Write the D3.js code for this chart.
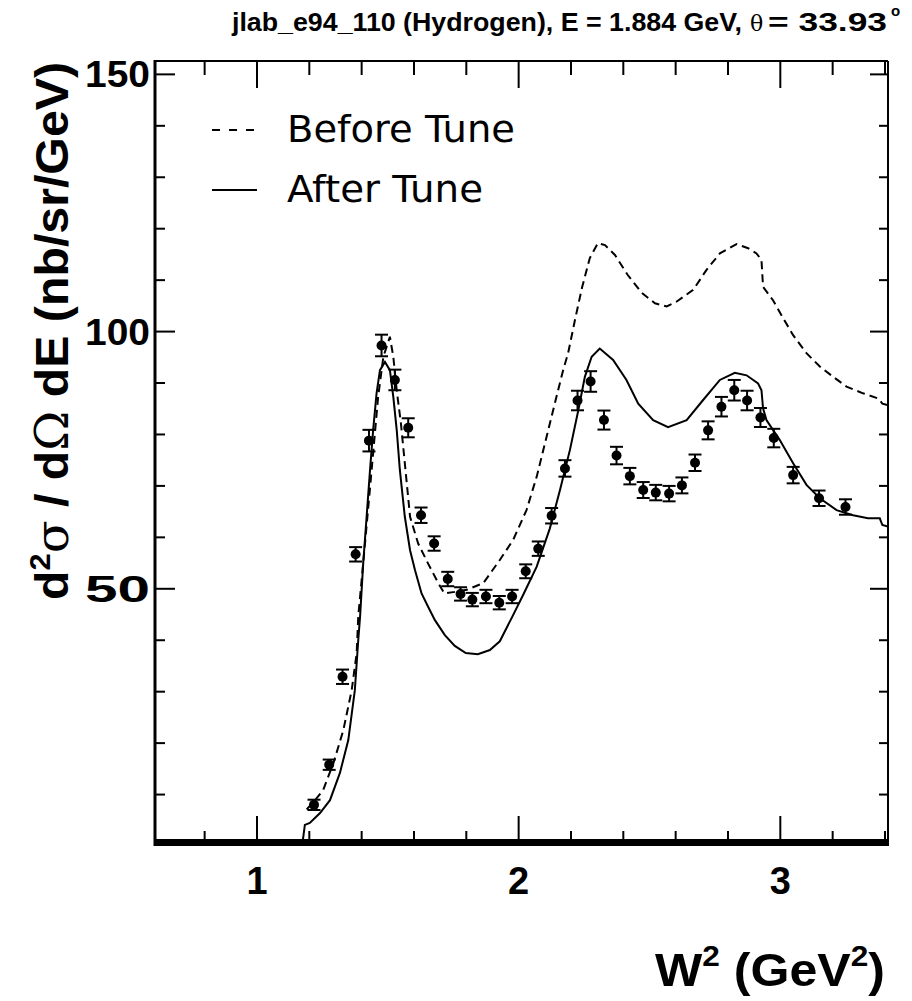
<!DOCTYPE html>
<html><head><meta charset="utf-8">
<script src="https://cdn.jsdelivr.net/npm/d3@7"></script>
<style>body{margin:0;background:#fff}svg{display:block}</style>
</head><body>
<svg id="c" width="912" height="1001"></svg>
<script>
// ---- data ----
const wData = [1.218,1.276,1.327,1.377,1.428,1.476,1.527,1.578,1.627,1.677,1.729,1.778,1.823,1.875,1.926,1.975,2.027,2.075,2.126,2.177,2.225,2.275,2.326,2.374,2.425,2.476,2.524,2.575,2.624,2.674,2.724,2.775,2.824,2.873,2.924,2.975,3.049,3.148,3.249];
const xsData = [8.0,15.8,32.9,56.7,78.8,97.3,90.6,81.3,64.3,58.8,51.9,49.0,47.9,48.5,47.3,48.5,53.4,57.8,64.2,73.4,86.6,90.3,82.8,75.9,71.9,69.2,68.7,68.5,70.1,74.5,80.8,85.4,88.6,86.6,83.3,79.3,72.1,67.6,65.9];
const errData = [1.0,1.0,1.4,1.4,2.1,2.1,2.0,1.85,1.5,1.4,1.4,1.3,1.3,1.3,1.3,1.3,1.35,1.4,1.5,1.6,1.9,2.0,1.85,1.7,1.6,1.55,1.5,1.5,1.55,1.6,1.75,1.9,2.0,1.9,1.85,1.8,1.6,1.5,1.5];

const wBefore = [1.190,1.225,1.253,1.292,1.330,1.362,1.381,1.387,1.413,1.444,1.463,1.483,1.508,1.521,1.534,1.550,1.565,1.585,1.616,1.654,1.693,1.716,1.756,1.802,1.865,1.928,1.979,2.030,2.069,2.107,2.138,2.170,2.189,2.215,2.242,2.272,2.303,2.330,2.368,2.417,2.471,2.521,2.566,2.603,2.667,2.718,2.769,2.833,2.877,2.909,2.928,2.934,2.972,3.011,3.049,3.100,3.151,3.202,3.253,3.316,3.374,3.390,3.411];
const xsBefore = [7.1,9.1,10.9,16.1,22.5,30.3,37.5,44.6,58.9,76.4,87.3,95.1,99.0,95.1,88.6,82.2,74.4,64.0,58.8,54.9,51.1,49.1,49.4,49.8,51.1,55.6,59.5,65.3,71.8,79.6,86.0,92.5,95.8,102.2,108.5,114.3,117.2,116.8,114.9,111.0,107.5,105.5,104.9,105.8,108.1,112.0,115.2,117.0,116.2,115.2,113.9,108.7,106.1,102.6,99.3,95.8,93.2,91.2,89.3,88.0,87.0,86.0,85.7];

const wAfter = [1.175,1.183,1.202,1.241,1.279,1.317,1.349,1.374,1.387,1.394,1.406,1.419,1.432,1.444,1.457,1.470,1.489,1.508,1.521,1.534,1.546,1.565,1.585,1.604,1.629,1.654,1.680,1.718,1.756,1.798,1.844,1.890,1.928,1.973,2.017,2.069,2.119,2.158,2.196,2.228,2.253,2.279,2.310,2.361,2.412,2.457,2.514,2.571,2.642,2.705,2.769,2.826,2.871,2.915,2.928,2.934,2.947,2.998,3.049,3.100,3.151,3.215,3.278,3.335,3.380,3.390,3.411];
const xsAfter = [1.0,4.1,4.5,6.4,8.9,14.2,20.6,30.3,40.0,44.6,55.0,64.0,73.1,80.9,88.0,92.5,94.1,92.5,87.3,80.9,73.1,64.0,57.5,53.6,49.1,46.5,43.9,41.0,38.9,37.5,37.3,38.1,39.8,44.3,48.8,54.3,61.7,69.2,77.0,84.7,91.2,95.1,96.7,94.5,90.6,86.0,82.8,81.4,82.8,86.7,90.6,92.0,91.5,89.9,88.6,85.1,82.8,78.9,74.4,70.2,67.6,65.3,64.3,63.7,63.7,62.4,62.1];

const xMajorTicks = [1,2,3];
const xMinorTicks = [0.8,1.2,1.4,1.6,1.8,2.2,2.4,2.6,2.8,3.2,3.4];
const yMajorTicks = [50,100,150];
const yMinorTicks = [10,20,30,40,60,70,80,90,110,120,130,140];
const legendLabels = ["Before Tune","After Tune"];

// ---- layout ----
const L=155, R=888, T=61, B=846;
const x = d3.scaleLinear().domain([0.6103,3.4115]).range([L,R]);
const y = d3.scaleLinear().domain([0,152.6]).range([B,T]);
const svg = d3.select("#c");

svg.append("clipPath").attr("id","clip").append("rect")
  .attr("x",L).attr("y",T).attr("width",R-L).attr("height",B-T);

// frame
svg.append("line").attr("x1",L).attr("x2",R).attr("y1",T).attr("y2",T).attr("stroke","#000").attr("stroke-width",2);
svg.append("line").attr("x1",R).attr("x2",R).attr("y1",T).attr("y2",B).attr("stroke","#000").attr("stroke-width",2);
svg.append("line").attr("x1",L).attr("x2",L).attr("y1",T-1).attr("y2",B).attr("stroke","#000").attr("stroke-width",3);
svg.append("rect").attr("x",L).attr("y",839).attr("width",R-L+1).attr("height",7).attr("fill","#000");

// ticks
const tk = svg.append("g").attr("stroke","#000").attr("stroke-width",2);
xMajorTicks.forEach(v=>{
  tk.append("line").attr("x1",x(v)).attr("x2",x(v)).attr("y1",B).attr("y2",B-30);
  tk.append("line").attr("x1",x(v)).attr("x2",x(v)).attr("y1",T).attr("y2",T+27);
});
xMinorTicks.forEach(v=>{
  tk.append("line").attr("x1",x(v)).attr("x2",x(v)).attr("y1",B).attr("y2",B-15);
  tk.append("line").attr("x1",x(v)).attr("x2",x(v)).attr("y1",T).attr("y2",T+14);
});
yMajorTicks.forEach(v=>{
  tk.append("line").attr("x1",L).attr("x2",L+20).attr("y1",y(v)).attr("y2",y(v));
  tk.append("line").attr("x1",R).attr("x2",R-18).attr("y1",y(v)).attr("y2",y(v));
});
yMinorTicks.forEach(v=>{
  tk.append("line").attr("x1",L).attr("x2",L+10).attr("y1",y(v)).attr("y2",y(v));
  tk.append("line").attr("x1",R).attr("x2",R-9).attr("y1",y(v)).attr("y2",y(v));
});

// tick labels
const bold = "'Liberation Sans', Arial, sans-serif";
xMajorTicks.forEach(v=>{
  svg.append("text").attr("x",x(v)).attr("y",894).attr("text-anchor","middle")
    .attr("font-family",bold).attr("font-weight","bold").attr("font-size",38).text(d3.format("d")(v));
});
yMajorTicks.forEach(v=>{
  svg.append("text").attr("x",150).attr("y",y(v)+13).attr("text-anchor","end")
    .attr("font-family",bold).attr("font-weight","bold").attr("font-size",36)
    .attr("textLength",65).attr("lengthAdjust","spacingAndGlyphs").text(d3.format("d")(v));
});

// curves
const g = svg.append("g").attr("clip-path","url(#clip)");
const line = d3.line().x(d=>x(d[0])).y(d=>y(d[1]));
g.append("path").datum(d3.zip(wBefore,xsBefore)).attr("d",line)
  .attr("fill","none").attr("stroke","#000").attr("stroke-width",2).attr("stroke-dasharray","8,5");
g.append("path").datum(d3.zip(wAfter,xsAfter)).attr("d",line)
  .attr("fill","none").attr("stroke","#000").attr("stroke-width",2);

// data points with error bars
const pts = g.selectAll("g.pt").data(d3.range(wData.length)).join("g").attr("class","pt");
pts.append("line").attr("x1",i=>x(wData[i])).attr("x2",i=>x(wData[i]))
  .attr("y1",i=>y(xsData[i]-errData[i])).attr("y2",i=>y(xsData[i]+errData[i]))
  .attr("stroke","#000").attr("stroke-width",2);
[-1,1].forEach(s=>{
  pts.append("line").attr("x1",i=>x(wData[i])-6.5).attr("x2",i=>x(wData[i])+6.5)
    .attr("y1",i=>y(xsData[i]+s*errData[i])).attr("y2",i=>y(xsData[i]+s*errData[i]))
    .attr("stroke","#000").attr("stroke-width",2);
});
pts.append("circle").attr("cx",i=>x(wData[i])).attr("cy",i=>y(xsData[i])).attr("r",5).attr("fill","#000");

// legend
const lg = svg.append("g");
lg.append("line").attr("x1",212).attr("x2",257).attr("y1",130).attr("y2",130)
  .attr("stroke","#000").attr("stroke-width",2).attr("stroke-dasharray","8,9");
lg.append("line").attr("x1",212).attr("x2",257).attr("y1",190).attr("y2",190)
  .attr("stroke","#000").attr("stroke-width",2);
lg.append("text").attr("x",287).attr("y",142).attr("font-family","'DejaVu Sans', sans-serif")
  .attr("font-size",38).attr("textLength",228).attr("lengthAdjust","spacingAndGlyphs").text(legendLabels[0]);
lg.append("text").attr("x",287).attr("y",202).attr("font-family","'DejaVu Sans', sans-serif")
  .attr("font-size",38).attr("textLength",196).attr("lengthAdjust","spacingAndGlyphs").text(legendLabels[1]);

// title
svg.append("text").attr("x",232).attr("y",31).attr("font-family",bold).attr("font-weight","bold")
  .attr("font-size",25).attr("textLength",510).attr("lengthAdjust","spacingAndGlyphs")
  .text("jlab_e94_110 (Hydrogen), E = 1.884 GeV,");
svg.append("text").attr("x",750).attr("y",31).attr("font-family","'DejaVu Serif', serif")
  .attr("font-size",22).text("θ");
svg.append("text").attr("x",768).attr("y",31).attr("font-family",bold).attr("font-weight","bold")
  .attr("font-size",25).attr("textLength",119).attr("lengthAdjust","spacingAndGlyphs").text("= 33.93");
svg.append("text").attr("x",891).attr("y",16).attr("font-family",bold).attr("font-weight","bold")
  .attr("font-size",15).text("o");

// y axis title
const yt = svg.append("text").attr("transform","translate(68,331) rotate(-90)")
  .attr("text-anchor","middle").attr("font-family",bold).attr("font-weight","bold").attr("font-size",47)
  .attr("textLength",538).attr("lengthAdjust","spacingAndGlyphs");
yt.append("tspan").text("d");
yt.append("tspan").attr("dy",-18).attr("font-size",30).text("2");
yt.append("tspan").attr("dy",18).attr("font-family","'DejaVu Serif', serif").attr("font-weight","normal").text("σ");
yt.append("tspan").text(" / d");
yt.append("tspan").attr("font-family","'DejaVu Serif', serif").attr("font-weight","normal").text("Ω");
yt.append("tspan").text(" dE (nb/sr/GeV)");

// x axis title
const xt = svg.append("text").attr("x",655).attr("y",986).attr("font-family",bold).attr("font-weight","bold")
  .attr("font-size",46).attr("textLength",230).attr("lengthAdjust","spacingAndGlyphs");
xt.append("tspan").text("W");
xt.append("tspan").attr("dy",-20).attr("font-size",29).text("2");
xt.append("tspan").attr("dy",20).text(" (GeV");
xt.append("tspan").attr("dy",-20).attr("font-size",29).text("2");
xt.append("tspan").attr("dy",20).text(")");
</script>
</body></html>
